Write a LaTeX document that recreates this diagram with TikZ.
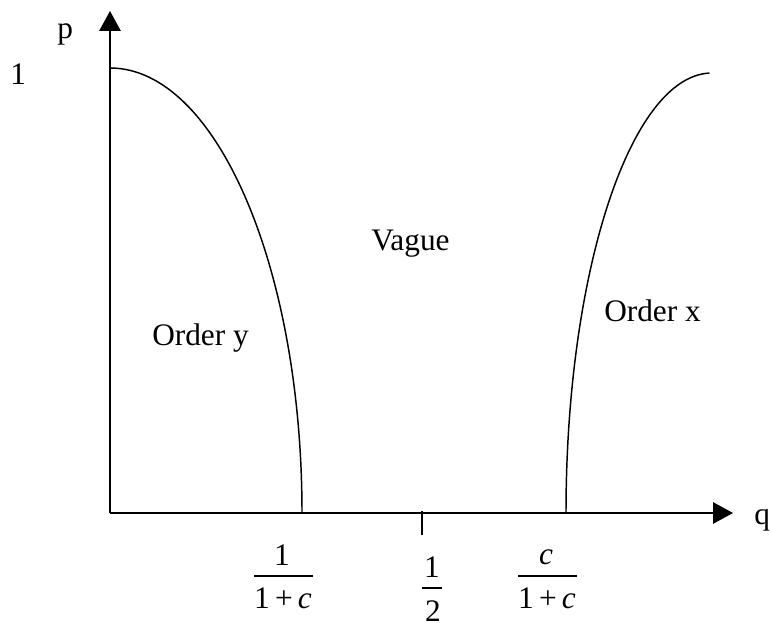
\documentclass[tikz,border=0pt]{standalone}
\usepackage{fontspec}
\setmainfont{Liberation Serif}
\usetikzlibrary{arrows.meta}
\begin{document}
\begin{tikzpicture}[x=0.75pt,y=-0.75pt,
  axis/.style={line width=1.5pt,-{Triangle[length=15pt,width=16pt]}},
  curve/.style={line width=1.1pt},
  ticklen/.style={line width=1.5pt},
  barline/.style={line width=0.8pt},
  lbl/.style={inner sep=0pt,font=\fontsize{23.5}{28}\selectfont}]
\useasboundingbox (0,0) rectangle (771,623);
% axes
\coordinate (O) at (110,513);
\coordinate (ytip) at (110,11);
\coordinate (xtip) at (733,513);
\draw[axis] (O) -- (ytip);
\draw[axis] (O) -- (xtip);
% curves
\coordinate (ltop) at (110,68);
\coordinate (rbot) at (566,513);
\draw[curve] (ltop) arc[start angle=90, end angle=0, x radius=144pt, y radius=333.75pt] coordinate (lbot);
\draw[curve] (rbot) arc[start angle=180, end angle=91, x radius=109.5pt, y radius=330pt] coordinate (rtop);
% middle tick
\coordinate (tkA) at (422,511);
\coordinate (tkB) at (422,535);
\draw[ticklen] (tkA) -- (tkB);
% axis labels
\node[lbl,anchor=base west] (p) at (57,39) {p};
\node[lbl,anchor=base west] (one) at (10,85) {1};
\node[lbl,anchor=base west] (q) at (754,524) {q};
% region labels
\node[lbl,anchor=base west] (vague) at (371,251) {Vague};
\node[lbl,anchor=base west] (ordy) at (152,346) {Order y};
\node[lbl,anchor=base west] (ordx) at (604,322) {Order x};
% fraction 1/(1+c)
\node[lbl,anchor=base] (f1n) at (282,565) {1};
\coordinate (f1a) at (254,576);
\coordinate (f1b) at (313,576);
\draw[barline] (f1a) -- (f1b);
\node[lbl,anchor=base] (f1d) at (283,608) {1\,+\,\textit{c}};
% fraction 1/2
\node[lbl,anchor=base] (f2n) at (432,577) {1};
\coordinate (f2a) at (422,588);
\coordinate (f2b) at (442,588);
\draw[barline] (f2a) -- (f2b);
\node[lbl,anchor=base] (f2d) at (433,621) {2};
% fraction c/(1+c)
\node[lbl,anchor=base] (f3n) at (546,564) {\textit{c}};
\coordinate (f3a) at (518,576);
\coordinate (f3b) at (577,576);
\draw[barline] (f3a) -- (f3b);
\node[lbl,anchor=base] (f3d) at (547,608) {1\,+\,\textit{c}};
\end{tikzpicture}
\end{document}
